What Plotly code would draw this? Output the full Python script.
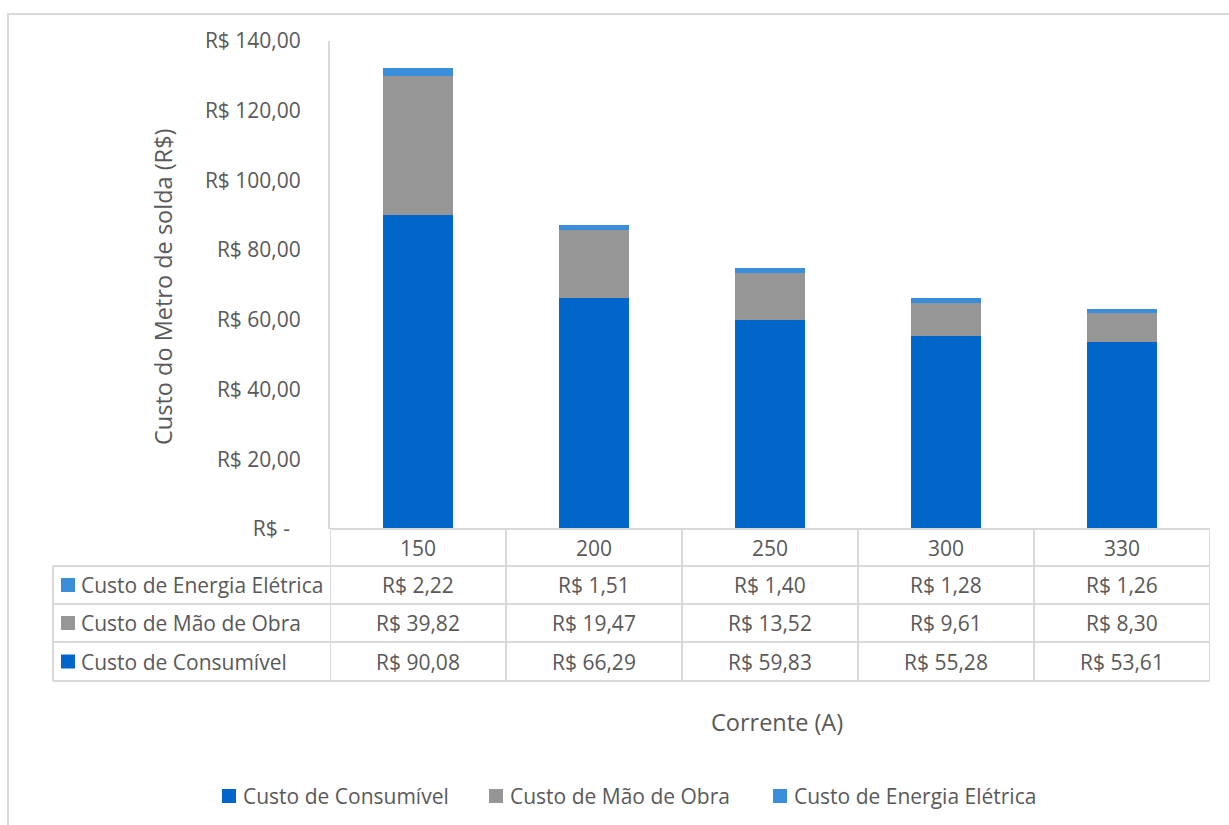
import plotly.graph_objects as go

# Welding cost per metre, stacked by cost component, for each welding current
correntes = ["150", "200", "250", "300", "330"]
consumivel = [90.08, 66.29, 59.83, 55.28, 53.61]
mao_de_obra = [39.82, 19.47, 13.52, 9.61, 8.30]
energia = [2.22, 1.51, 1.40, 1.28, 1.26]

y_ticks = [0, 20, 40, 60, 80, 100, 120, 140]
y_tick_text = ["R$ -\u00a0\u00a0", "R$ 20,00", "R$ 40,00", "R$ 60,00", "R$ 80,00",
               "R$ 100,00", "R$ 120,00", "R$ 140,00"]

W, H = 1229, 825
FONT = "Open Sans"
FS = 21
FS_TITLE = 23.5
TXT = "#595959"
GRID = "#D9D9D9"

C_CONS = "#0066CC"
C_MAO = "#969696"
C_ENER = "#3A8DD8"


def px(x):
    return x / W


def py(y):
    return 1 - y / H


def brl(v):
    return "R$ " + f"{v:.2f}".replace(".", ",")


series = [
    ("Custo de Consumível", consumivel, C_CONS),
    ("Custo de Mão de Obra", mao_de_obra, C_MAO),
    ("Custo de Energia Elétrica", energia, C_ENER),
]

fig = go.Figure()
for name, vals, color in series:
    fig.add_trace(go.Bar(x=correntes, y=vals, name=name, showlegend=False,
                         marker=dict(color=color, line=dict(width=0))))

# plot area geometry (pixels)
X0, X1 = 330, 1210
Y_TOP, Y_ZERO = 41, 529
TABLE_LEFT = 53
ROW_EDGES = [529, 566, 604, 642, 681]

shapes = []
annotations = []


def label(x, y, text, xref="paper", anchor="center", size=FS, angle=0):
    annotations.append(dict(x=x, y=y, xref=xref, yref="paper", text=text,
                            showarrow=False, xanchor=anchor, yanchor="middle",
                            textangle=angle,
                            font=dict(size=size, color=TXT, family=FONT)))


def swatch(xl, xr, yc, half_h, color):
    shapes.append(dict(type="rect", xref="paper", yref="paper",
                       x0=px(xl), x1=px(xr), y0=py(yc + half_h), y1=py(yc - half_h),
                       fillcolor=color, line=dict(width=0)))


# outer chart border
shapes.append(dict(type="rect", xref="paper", yref="paper",
                   x0=px(8), x1=1.02, y0=-0.02, y1=py(14),
                   line=dict(color=GRID, width=2), fillcolor="rgba(0,0,0,0)",
                   layer="below"))

# data table: horizontal rules
for i, yy in enumerate(ROW_EDGES):
    shapes.append(dict(type="line", xref="paper", yref="paper",
                       x0=px(X0 if i == 0 else TABLE_LEFT), x1=px(X1),
                       y0=py(yy), y1=py(yy), line=dict(color=GRID, width=2)))
# data table: vertical rules at category boundaries
for k in range(len(correntes) + 1):
    shapes.append(dict(type="line", xref="x", yref="paper",
                       x0=k - 0.5, x1=k - 0.5, y0=py(ROW_EDGES[0]), y1=py(ROW_EDGES[-1]),
                       line=dict(color=GRID, width=2)))
shapes.append(dict(type="line", xref="paper", yref="paper",
                   x0=px(TABLE_LEFT), x1=px(TABLE_LEFT),
                   y0=py(ROW_EDGES[1]), y1=py(ROW_EDGES[-1]),
                   line=dict(color=GRID, width=2)))

# header row with the current values
hdr_mid = (ROW_EDGES[0] + ROW_EDGES[1]) / 2
for k, c in enumerate(correntes):
    label(k, py(hdr_mid), c, xref="x")

# one row per series, top row is the top of the stack
for r, (name, vals, color) in enumerate(reversed(series)):
    mid = (ROW_EDGES[r + 1] + ROW_EDGES[r + 2]) / 2
    swatch(61, 75, mid, 7, color)
    label(px(79), py(mid), name, anchor="left")
    for k, v in enumerate(vals):
        label(k, py(mid), brl(v), xref="x")

# axis titles
label(px(163), py(287), "Custo do Metro de solda (R$)", size=FS_TITLE, angle=-90)
label(px(777), py(722), "Corrente (A)", size=FS_TITLE)

# legend row below the chart
LEG_Y = 796
for (name, vals, color), sx in zip(series, [222, 489, 773]):
    swatch(sx, sx + 14, LEG_Y, 7, color)
    label(px(sx + 19), py(LEG_Y), name, anchor="left")

fig.update_layout(
    width=W, height=H, autosize=False,
    margin=dict(l=0, r=0, t=0, b=0, autoexpand=False),
    paper_bgcolor="white", plot_bgcolor="white",
    font=dict(family=FONT, color=TXT, size=FS),
    barmode="stack", bargap=0.6,
    shapes=shapes, annotations=annotations,
    showlegend=False,
    xaxis=dict(domain=[px(X0), px(X1)], type="category",
               range=[-0.5, len(correntes) - 0.5],
               showticklabels=False, showgrid=False, showline=False,
               zeroline=False, ticks=""),
    yaxis=dict(domain=[py(Y_ZERO), py(Y_TOP)], range=[0, 140],
               tickvals=y_ticks, ticktext=y_tick_text,
               showgrid=False, zeroline=False, ticks="",
               showline=True, linecolor=GRID, linewidth=2,
               ticklabelstandoff=23, automargin=False,
               tickfont=dict(size=FS, color=TXT, family=FONT)),
)

fig.write_html("out.html")
